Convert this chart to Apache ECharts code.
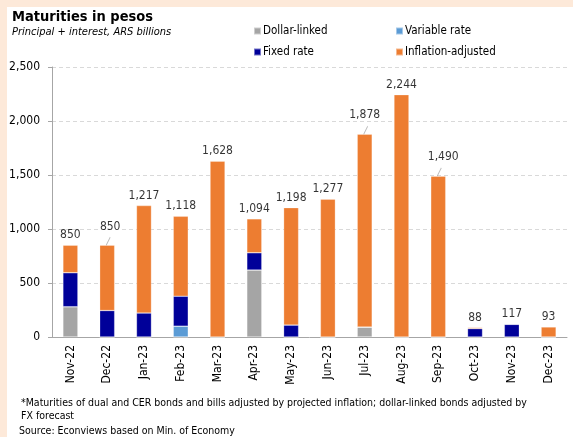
<!DOCTYPE html>
<html>
<head>
<meta charset="utf-8">
<script src="https://cdn.jsdelivr.net/npm/echarts@6/dist/echarts.min.js"></script>
<style>
  html, body { margin: 0; padding: 0; background: #FDE9D9; }
  #frame { position: absolute; left: 7px; top: 7px; width: 566px; height: 430px; background: #fff; }
  #chart { position: absolute; left: 0; top: 0; width: 573px; height: 437px; }
</style>
</head>
<body>
<div id="frame"></div>
<div id="chart"></div>
<script>
// Monthly peso maturities, ARS billions
const months = ['Nov-22','Dec-22','Jan-23','Feb-23','Mar-23','Apr-23','May-23','Jun-23','Jul-23','Aug-23','Sep-23','Oct-23','Nov-23','Dec-23'];
const dollarLinked      = [280, 0, 0, 0, 0, 620, 0, 0, 92, 0, 0, 0, 0, 0];
const variableRate      = [0, 0, 0, 100, 0, 0, 0, 0, 0, 0, 0, 0, 0, 0];
const fixedRate         = [315, 245, 222, 278, 0, 160, 110, 0, 0, 0, 0, 78, 117, 0];
const inflationAdjusted = [255, 605, 995, 740, 1628, 314, 1088, 1277, 1786, 2244, 1490, 10, 0, 93];
const totals            = [850, 850, 1217, 1118, 1628, 1094, 1198, 1277, 1878, 2244, 1490, 88, 117, 93];
const yTicks            = [0, 500, 1000, 1500, 2000, 2500];

// months whose total label sits higher, joined to the bar by a short leader line
const raisedLabels = { 1: [3, -8], 8: [0, -9], 10: [5, -9] };

const FONT = 'DejaVu Sans Condensed, DejaVu Sans';
const fmt = v => v.toLocaleString('en-US');

const chart = echarts.init(document.getElementById('chart'), null, {renderer: 'canvas'});

function barSeries(name, data, color) {
  return {
    name, type: 'bar', stack: 'total', data,
    barWidth: 15,
    itemStyle: { color, borderColor: 'rgba(255,255,255,0.45)', borderWidth: 0.6 },
    emphasis: { disabled: true }
  };
}

// totals drawn as invisible points carrying the value labels
const totalPoints = totals.map((v, i) => {
  const r = raisedLabels[i];
  return r ? { value: v, label: { offset: [r[0], r[1]] } } : { value: v };
});

const titleText = { fontFamily: FONT, fontWeight: 'normal', color: '#000' };

chart.setOption({
  backgroundColor: 'transparent',
  animation: false,
  textStyle: { fontFamily: FONT },
  title: [
    { text: 'Maturities in pesos', left: 12, top: 10, padding: 0,
      textStyle: { fontFamily: FONT, fontSize: 14.5, fontWeight: 'bold', color: '#000' } },
    { text: 'Principal + interest, ARS billions', left: 12, top: 27, padding: 0,
      textStyle: Object.assign({}, titleText, { fontSize: 11, fontStyle: 'italic' }) },
    { text: '*Maturities of dual and CER bonds and bills adjusted by projected inflation; dollar-linked bonds adjusted by\nFX forecast',
      left: 21, top: 397, padding: 0,
      textStyle: Object.assign({}, titleText, { fontSize: 10.5, lineHeight: 13 }) },
    { text: 'Source: Econviews based on Min. of Economy', left: 19, top: 426, padding: 0,
      textStyle: Object.assign({}, titleText, { fontSize: 10.5 }) }
  ],
  legend: [
    { data: ['Dollar-linked', 'Fixed rate'], orient: 'vertical', left: 253, top: 25, padding: 0,
      itemWidth: 7, itemHeight: 7, itemGap: 9, icon: 'rect',
      textStyle: { fontFamily: FONT, fontSize: 11.5, color: '#000', padding: [0, 0, 0, -3] } },
    { data: ['Variable rate', 'Inflation-adjusted'], orient: 'vertical', left: 395, top: 25, padding: 0,
      itemWidth: 7, itemHeight: 7, itemGap: 9, icon: 'rect',
      textStyle: { fontFamily: FONT, fontSize: 11.5, color: '#000', padding: [0, 0, 0, -3] } }
  ],
  grid: { left: 52, right: 6, top: 67, bottom: 100, containLabel: false },
  xAxis: {
    type: 'category', data: months,
    axisLine: { lineStyle: { color: '#A6A6A6' } },
    axisTick: { show: false },
    axisLabel: { rotate: 90, color: '#000', fontSize: 12, fontFamily: FONT, margin: 8 }
  },
  yAxis: {
    type: 'value', min: 0, max: 2500, interval: 500,
    axisLine: { show: true, lineStyle: { color: '#A6A6A6' } },
    axisTick: { show: true, length: 4, lineStyle: { color: '#A6A6A6' } },
    splitLine: { lineStyle: { color: '#D9D9D9', type: [4, 3] } },
    axisLabel: { color: '#000', fontSize: 12, fontFamily: FONT, margin: 12,
      formatter: v => yTicks.includes(v) ? fmt(v) : '' }
  },
  series: [
    barSeries('Dollar-linked', dollarLinked, '#A5A5A5'),
    barSeries('Variable rate', variableRate, '#5B9BD5'),
    barSeries('Fixed rate', fixedRate, '#000099'),
    barSeries('Inflation-adjusted', inflationAdjusted, '#ED7D31'),
    {
      name: 'Total', type: 'scatter', data: totalPoints, symbolSize: 0,
      silent: true, z: 5,
      label: {
        show: true, position: 'top', distance: 4,
        color: '#000', fontSize: 12, fontFamily: FONT,
        formatter: p => fmt(p.value)
      }
    },
    {
      // short leader lines under the raised labels
      name: 'Leader', type: 'scatter', silent: true, z: 4,
      data: totals.map((v, i) => raisedLabels[i] ? v : null),
      symbol: 'path://M0,0 L0.35,-1', symbolSize: [4, 8], symbolOffset: [1, -4],
      itemStyle: { color: 'none', borderColor: '#A6A6A6', borderWidth: 1 }
    }
  ]
});
</script>
</body>
</html>
